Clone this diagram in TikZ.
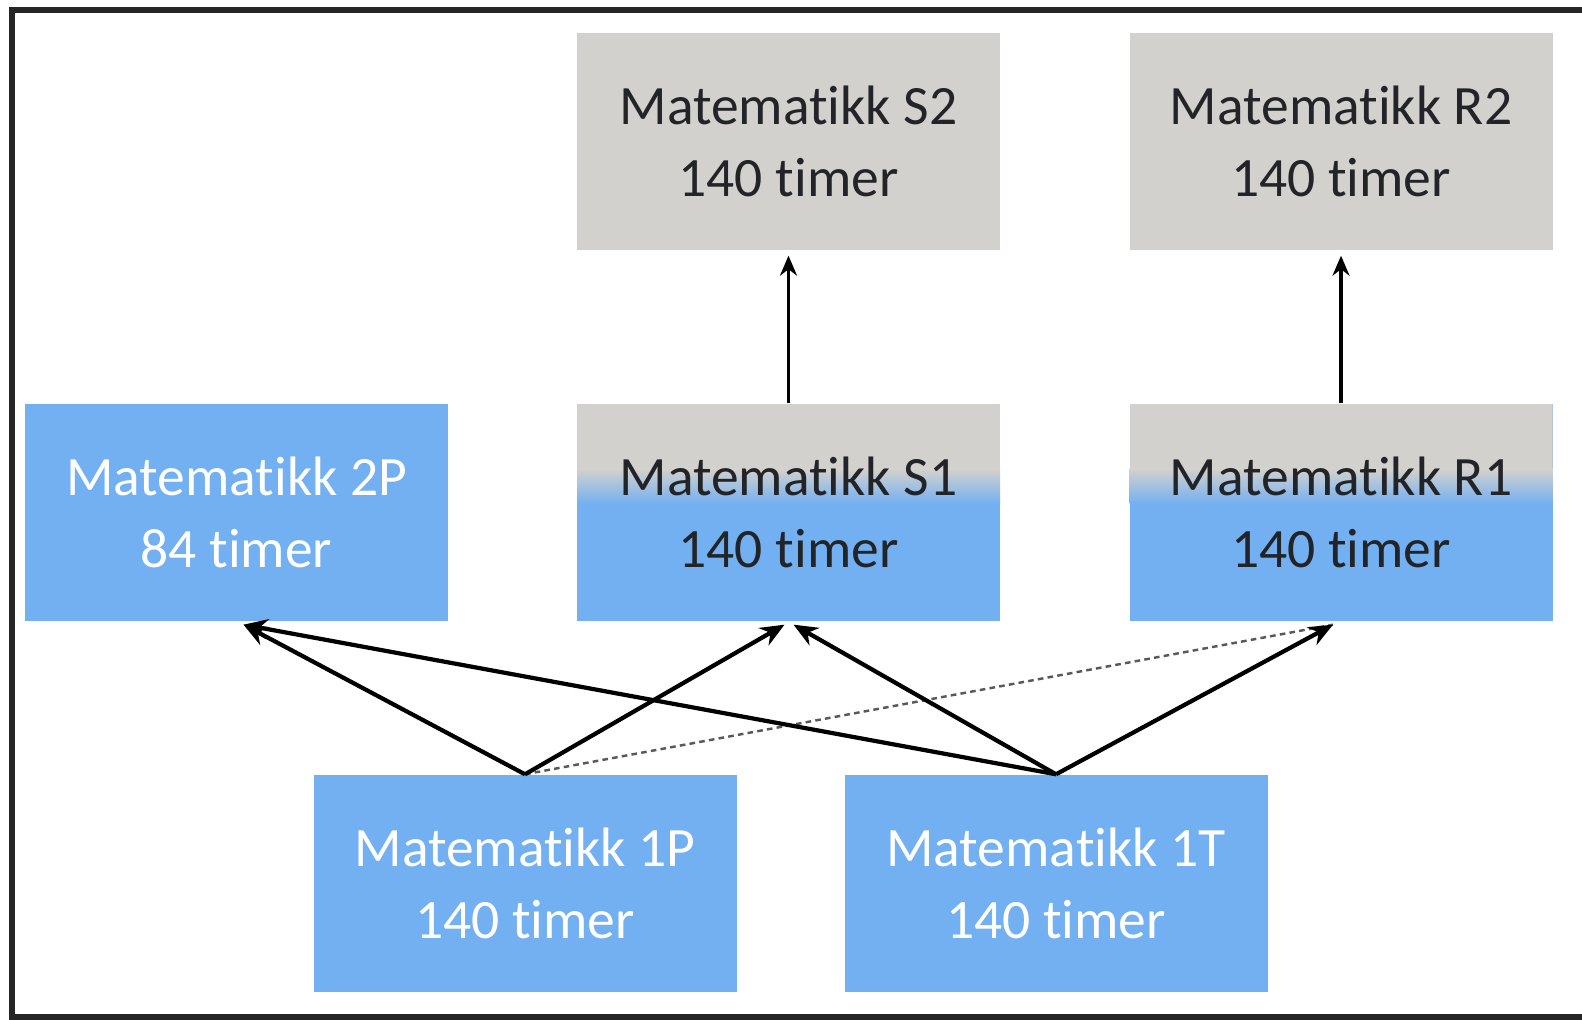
\documentclass[tikz,border=0pt]{standalone}
\usepackage{fontspec}
\setmainfont{Carlito}[Ligatures=NoCommon]
\usetikzlibrary{arrows.meta}
\definecolor{fagGray}{RGB}{211,209,205}
\definecolor{fagBlue}{RGB}{114,176,242}
\definecolor{fagText}{RGB}{34,36,40}
\tikzset{
  fag/.style={minimum width=4.23cm, minimum height=2.17cm, inner sep=0pt, align=center,
    font=\fontsize{15.8}{20.5}\selectfont},
  grayfag/.style={fag, fill=fagGray, text=fagText},
  bluefag/.style={fag, fill=fagBlue, text=white},
  mixfag/.style={fag, fill=fagBlue, text=fagText, path picture={
    \fill[fagGray] (path picture bounding box.north west) rectangle ([yshift=-0.65cm]path picture bounding box.north east);
    \shade[top color=fagGray, bottom color=fagBlue] ([yshift=-0.65cm]path picture bounding box.north west) rectangle ([yshift=-1.0cm]path picture bounding box.north east);}},
  pil/.style={-{Stealth[length=2.4mm,width=2mm]}, line width=1.2pt},
}
\begin{document}
\begin{tikzpicture}
\useasboundingbox (0,0) rectangle (15.82,10.2);
\draw[line width=1.6pt, black!85] (0.12,0.03) rectangle (15.95,10.1);

% upper row
\node[grayfag] (S2) at (7.885,8.785) {Matematikk S2\\140 timer};
\node[grayfag] (R2) at (13.41,8.785) {Matematikk R2\\140 timer};

% middle row
\node[bluefag] (P2) at (2.365,5.075) {Matematikk 2P\\84 timer};
\node[mixfag] (S1) at (7.885,5.075) {Matematikk S1\\140 timer};
\node[mixfag] (R1) at (13.41,5.075) {Matematikk R1\\140 timer};

% lower row
\node[bluefag] (P1) at (5.25,1.365) {Matematikk 1P\\140 timer};
\node[bluefag] (T1) at (10.56,1.365) {Matematikk 1T\\140 timer};

\draw[pil, line width=1pt, -{Stealth[length=2mm,width=1.7mm]}] (S1.north) -- ([yshift=-0.05cm]S2.south);
\draw[pil, line width=1pt, -{Stealth[length=2mm,width=1.7mm]}] (R1.north) -- ([yshift=-0.05cm]R2.south);

\draw[dash pattern=on 1.6pt off 1.2pt, line width=0.7pt, black!65] (P1.north) -- ([xshift=-0.08cm,yshift=-0.03cm]R1.south);
\draw[pil] (P1.north) -- ([xshift=0.07cm,yshift=-0.03cm]P2.south);
\draw[pil] (P1.north) -- ([xshift=-0.04cm,yshift=-0.03cm]S1.south);
\draw[pil] (T1.north) -- ([xshift=0.07cm,yshift=-0.03cm]P2.south);
\draw[pil] (T1.north) -- ([xshift=0.05cm,yshift=-0.03cm]S1.south);
\draw[pil] (T1.north) -- ([xshift=-0.08cm,yshift=-0.03cm]R1.south);
\end{tikzpicture}
\end{document}
